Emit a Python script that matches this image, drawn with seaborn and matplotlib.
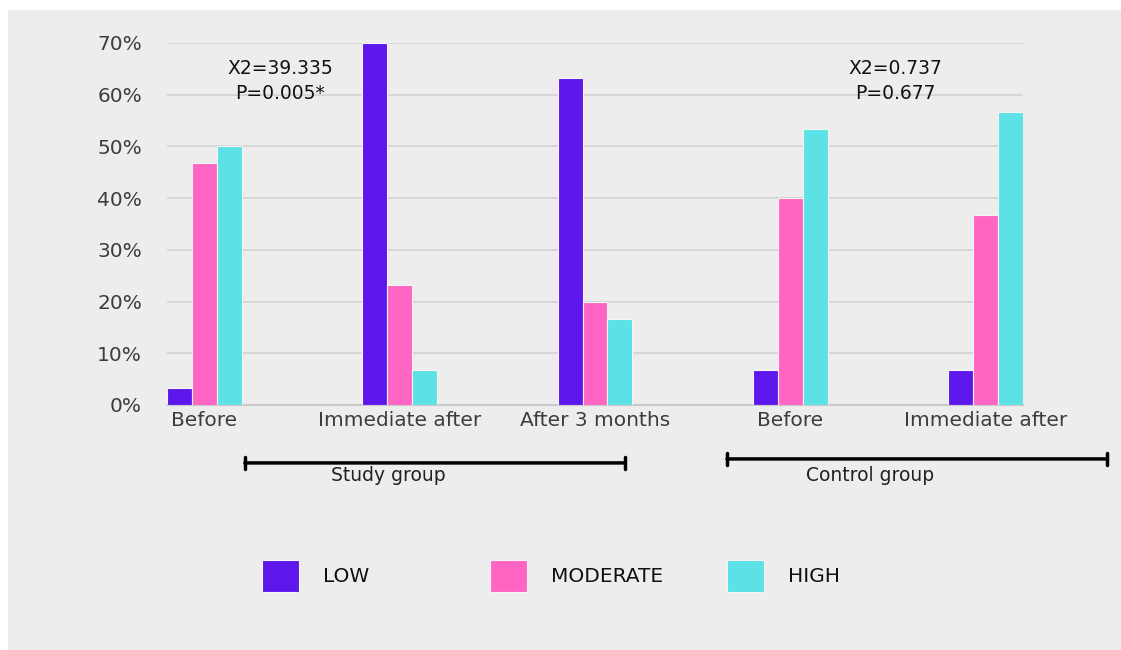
import pandas as pd
import matplotlib.pyplot as plt
import matplotlib.transforms as mtransforms
from matplotlib.patches import Rectangle
import seaborn as sns

# Data
timepoints = ['Before', 'Immediate after', 'After 3 months', 'Before ', 'Immediate after ']
tick_labels = ['Before', 'Immediate after', 'After 3 months', 'Before', 'Immediate after']
levels = ['LOW', 'MODERATE', 'HIGH']
low_pct = [3.3, 70.0, 63.3, 6.7, 6.7]
moderate_pct = [46.7, 23.3, 20.0, 40.0, 36.7]
high_pct = [50.0, 6.7, 16.7, 53.3, 56.7]
colors = ['#5e17eb', '#ff66c4', '#5ce1e6']

df = pd.DataFrame({
    'time': timepoints * 3,
    'level': ['LOW'] * 5 + ['MODERATE'] * 5 + ['HIGH'] * 5,
    'pct': low_pct + moderate_pct + high_pct,
})

bg = '#ededed'
sns.set_theme(style='white')
plt.rcParams['font.family'] = ['DejaVu Sans']

fig = plt.figure(figsize=(11.21, 6.5), dpi=100, facecolor='white')
fig.add_artist(Rectangle((8 / 1121, 0), 1, 640 / 650, transform=fig.transFigure,
                         facecolor=bg, edgecolor='none', zorder=-10))
ax = fig.add_axes([167 / 1121, 1 - 405 / 650, (1023 - 167) / 1121, (405 - 43) / 650])
ax.set_facecolor(bg)

sns.barplot(data=df, x='time', y='pct', hue='level', hue_order=levels,
            palette=colors, saturation=1, width=0.384, gap=0.0, ax=ax,
            edgecolor='#f4f4f4', linewidth=0.8, zorder=3)

ax.set_xlim(-0.192, 4.192)
ax.set_ylim(0, 70)
ax.set_yticks(range(0, 71, 10))
ax.set_yticklabels([f'{v}%' for v in range(0, 71, 10)])
ax.set_xticks(range(5))
ax.set_xticklabels(tick_labels)
ax.set_xlabel('')
ax.set_ylabel('')
ax.tick_params(axis='both', length=0, labelsize=14.5, colors='#3d3d3d')
ax.tick_params(axis='y', pad=18)
ax.tick_params(axis='x', pad=4)
ax.yaxis.grid(True, color='#d2d2d2', linewidth=1.2, zorder=0)
ax.set_axisbelow(True)
for s in ['top', 'right', 'left']:
    ax.spines[s].set_visible(False)
ax.spines['bottom'].set_color('#c8c8c8')
ax.spines['bottom'].set_linewidth(1.5)

# Chi-square annotations
ax.text(0.387, 62.7, 'X2=39.335\nP=0.005*', ha='center', va='center',
        fontsize=13.5, color='#111111', linespacing=1.4)
ax.text(3.536, 62.7, 'X2=0.737\nP=0.677', ha='center', va='center',
        fontsize=13.5, color='#111111', linespacing=1.4)

# Group brackets
trans = mtransforms.blended_transform_factory(ax.transData, ax.transAxes)
ax.annotate('', xy=(2.153, -0.160), xytext=(0.207, -0.160), xycoords=trans,
            textcoords=trans, annotation_clip=False,
            arrowprops=dict(arrowstyle='|-|, widthA=0.35, widthB=0.35', lw=2.5, color='black',
                            shrinkA=0, shrinkB=0))
ax.annotate('', xy=(4.62, -0.149), xytext=(2.676, -0.149), xycoords=trans,
            textcoords=trans, annotation_clip=False,
            arrowprops=dict(arrowstyle='|-|, widthA=0.35, widthB=0.35', lw=2.5, color='black',
                            shrinkA=0, shrinkB=0))
ax.text(0.94, -0.196, 'Study group', transform=trans, ha='center', va='center',
        fontsize=13.5, color='#222222', clip_on=False)
ax.text(3.41, -0.196, 'Control group', transform=trans, ha='center', va='center',
        fontsize=13.5, color='#222222', clip_on=False)

# Legend: one entry per level, placed as in the reference
handles, labels = ax.get_legend_handles_labels()
ax.get_legend().remove()
legend_x = [262, 490, 727]
for h, lab, lx in zip(handles, labels, legend_x):
    leg = fig.legend([h], [lab], loc='center left',
                     bbox_to_anchor=(lx / 1121, 1 - 576 / 650),
                     frameon=False, fontsize=14.5, handlelength=1.85,
                     handleheight=2.0, handletextpad=1.2, borderaxespad=0,
                     borderpad=0)
    for t in leg.get_texts():
        t.set_color('#111111')

fig.savefig('out.png', dpi=100, facecolor='white')
